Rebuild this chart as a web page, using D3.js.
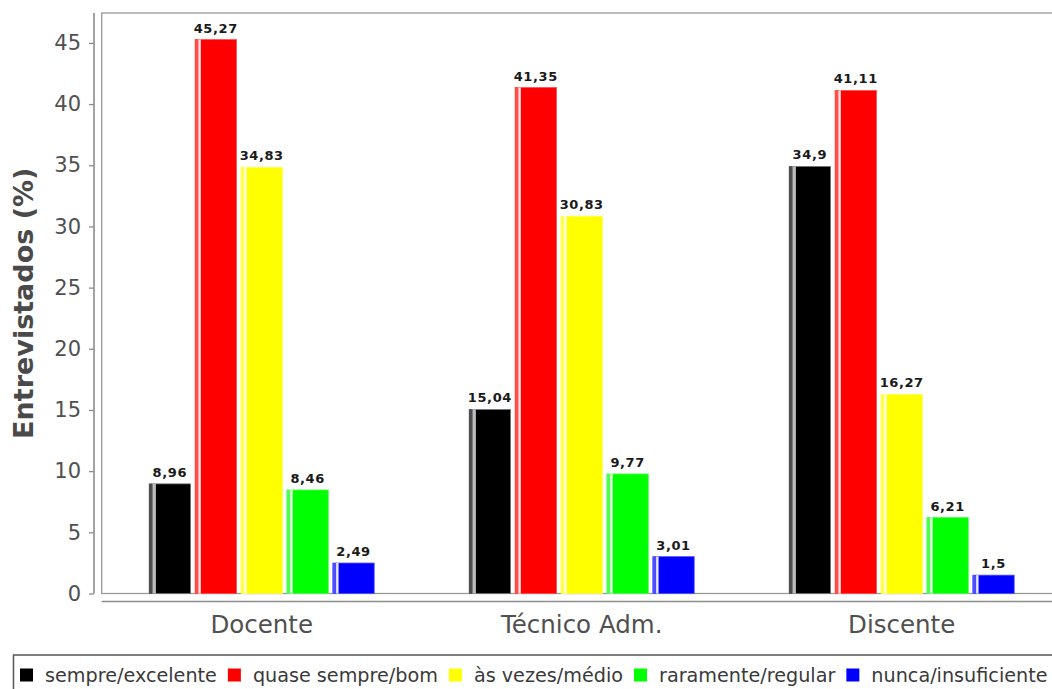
<!DOCTYPE html>
<html>
<head>
<meta charset="utf-8">
<script src="https://cdn.jsdelivr.net/npm/d3@7"></script>
<style>
  html, body { margin: 0; padding: 0; background: #fff; }
  svg { display: block; font-family: "DejaVu Sans", sans-serif; }
</style>
</head>
<body>
<svg id="chart" width="1052" height="689"></svg>
<script>
// Survey answers by respondent group (percent of interviewees)
const categories = ["Docente", "Técnico Adm.", "Discente"];
const series = ["sempre/excelente", "quase sempre/bom", "às vezes/médio", "raramente/regular", "nunca/insuficiente"];
const colors = ["#000000", "#ff0000", "#ffff00", "#00ff00", "#0000ff"];
const sempre = [8.96, 15.04, 34.9];
const quaseSempre = [45.27, 41.35, 41.11];
const asVezes = [34.83, 30.83, 16.27];
const raramente = [8.46, 9.77, 6.21];
const nunca = [2.49, 3.01, 1.5];
const yTicks = [0, 5, 10, 15, 20, 25, 30, 35, 40, 45];
const valueLabels = [
  ["8,96", "15,04", "34,9"],
  ["45,27", "41,35", "41,11"],
  ["34,83", "30,83", "16,27"],
  ["8,46", "9,77", "6,21"],
  ["2,49", "3,01", "1,5"]
];

const seriesValues = [sempre, quaseSempre, asVezes, raramente, nunca];

const svg = d3.select("#chart");

// Plot area
const plot = { left: 101.7, right: 1061.7, top: 13, bottom: 593.5 };

const yMax = d3.max(seriesValues.flat()) * 1.048;
const y = d3.scaleLinear().domain([0, yMax]).range([plot.bottom, plot.top]);

const x0 = d3.scaleBand().domain(categories).range([plot.left, plot.right]).padding(0);
const x1 = d3.scaleBand().domain(series).range([47.5, 272.5]).paddingInner(0.1);

const textGray = "#4a4a4a";
const lineGray = "#8c8c8c";

// Plot outline
svg.append("rect")
  .attr("x", plot.left).attr("y", plot.top)
  .attr("width", plot.right - plot.left).attr("height", plot.bottom - plot.top)
  .attr("fill", "none").attr("stroke", "#9a9a9a").attr("stroke-width", 1.3);

// Bars
const tint = (c, t) => d3.interpolateRgb(c, "#ffffff")(t);
const bars = [];
series.forEach((s, si) => {
  categories.forEach((c, ci) => {
    bars.push({ s, si, c, ci, v: seriesValues[si][ci], label: valueLabels[si][ci], color: colors[si] });
  });
});

const gBars = svg.append("g");
const barG = gBars.selectAll("g.bar").data(bars).join("g").attr("class", "bar");

barG.append("rect")
  .attr("x", d => x0(d.c) + x1(d.s))
  .attr("y", d => y(d.v))
  .attr("width", x1.bandwidth())
  .attr("height", d => y(0) - y(d.v))
  .attr("fill", d => d.color)
  .attr("stroke", d => tint(d.color, d.si === 0 ? 0.45 : 0.3))
  .attr("stroke-width", 0.8);

// left highlight strip
barG.append("rect")
  .attr("x", d => x0(d.c) + x1(d.s))
  .attr("y", d => y(d.v))
  .attr("width", 3.2)
  .attr("height", d => y(0) - y(d.v))
  .attr("fill", d => d.si === 0 ? "#4d4d4d" : tint(d.color, 0.3));

// light gap line
barG.append("rect")
  .attr("x", d => x0(d.c) + x1(d.s) + 3.2)
  .attr("y", d => y(d.v))
  .attr("width", d => d.si === 0 ? 3.5 : 2.5)
  .attr("height", d => y(0) - y(d.v))
  .attr("fill", d => d.si === 0 ? "#d0d0d0" : "#ffffff")
  .attr("opacity", 0.9);

// value labels
barG.append("text")
  .attr("x", d => x0(d.c) + x1(d.s) + x1.bandwidth() / 2)
  .attr("y", d => y(d.v) - 7)
  .attr("text-anchor", "middle")
  .attr("font-size", 13)
  .attr("font-weight", "bold")
  .attr("letter-spacing", 0.6)
  .attr("fill", "#1a1a1a")
  .text(d => d.label);

// Y axis (offset from the plot)
const yAxisX = 94;
const yAxis = d3.axisLeft(y).tickValues(yTicks).tickSize(5).tickPadding(8).tickFormat(d3.format("d"));
const gy = svg.append("g").attr("transform", `translate(${yAxisX},0)`).call(yAxis);
gy.select(".domain").attr("d", `M0,${plot.top}V${plot.bottom}`).attr("stroke", lineGray).attr("stroke-width", 1.6);
gy.selectAll(".tick line").attr("stroke", lineGray).attr("stroke-width", 1.3);
gy.selectAll(".tick text")
  .attr("font-size", 21).attr("fill", "#505050")
  .attr("font-family", "DejaVu Sans, sans-serif");

// Y axis title
svg.append("text")
  .attr("transform", `translate(33,${(plot.top + plot.bottom) / 2}) rotate(-90)`)
  .attr("text-anchor", "middle")
  .attr("font-size", 27)
  .attr("font-weight", "bold")
  .attr("fill", textGray)
  .text("Entrevistados (%)");

// X axis (offset below the plot)
const xAxisY = 601.5;
const xAxis = d3.axisBottom(x0).tickSize(0).tickPadding(0);
const gx = svg.append("g").attr("transform", `translate(0,${xAxisY})`).call(xAxis);
gx.select(".domain").attr("d", `M${plot.left},0H${plot.right}`).attr("stroke", lineGray).attr("stroke-width", 1.6);
gx.selectAll(".tick text")
  .attr("y", 31.5).attr("dy", 0)
  .attr("font-size", 24.5).attr("fill", "#505050")
  .attr("font-family", "DejaVu Sans, sans-serif");

// Legend
const legend = svg.append("g");
legend.append("rect")
  .attr("x", 13.5).attr("y", 655)
  .attr("width", 1100).attr("height", 60)
  .attr("fill", "none").attr("stroke", "#555").attr("stroke-width", 1.5);

let lx = 20;
series.forEach((s, i) => {
  const item = legend.append("g");
  item.append("rect")
    .attr("x", lx).attr("y", 668.5).attr("width", 13).attr("height", 13)
    .attr("fill", colors[i]);
  const t = item.append("text")
    .attr("x", lx + 25).attr("y", 682)
    .attr("font-size", 19.2).attr("fill", "#3a3a3a")
    .text(s);
  lx = lx + 25 + t.node().getComputedTextLength() + 11;
});
</script>
</body>
</html>
